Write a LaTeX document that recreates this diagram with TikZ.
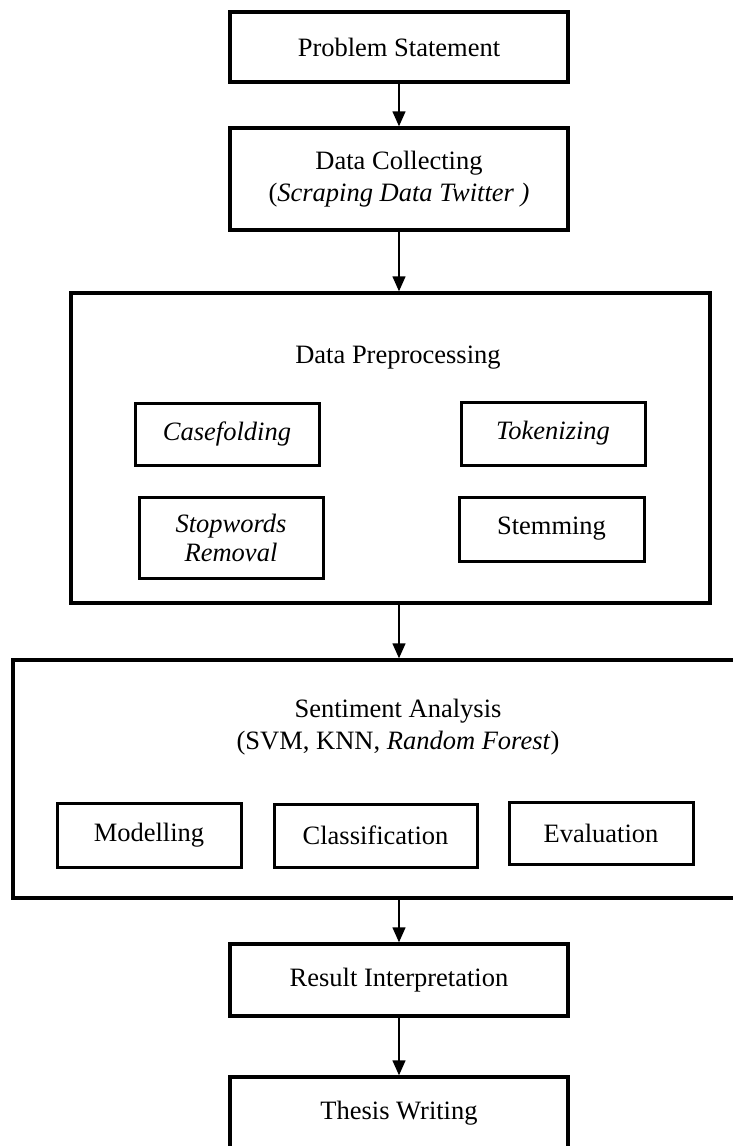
\documentclass[tikz,border=0pt]{standalone}
\usepackage{fontspec}
\setmainfont{Liberation Serif}
\usetikzlibrary{arrows.meta}

\tikzset{
  stage/.style={draw, line width=3.4pt, rectangle, inner sep=0pt, align=center,
                font=\fontsize{26.5}{32}\selectfont},
  task/.style={draw, line width=3pt, rectangle, inner sep=0pt, align=center,
               font=\fontsize{26.5}{29}\selectfont},
  label/.style={inner sep=0pt, align=center, font=\fontsize{26.5}{32}\selectfont},
  flow/.style={line width=1.4pt, -{Triangle[width=13pt,length=15pt]}}
}

\begin{document}
\begin{tikzpicture}[x=1pt,y=-1pt]
  \useasboundingbox (0,0) rectangle (733,1146);
  \clip (0,0) rectangle (733,1146);

  % main stages
  \node[stage, minimum width=338pt, minimum height=70pt]  (ps)  at (399,47)    {Problem Statement};
  \node[stage, minimum width=338pt, minimum height=102pt] (dc)  at (399,179)   {Data Collecting\\(\textit{Scraping Data Twitter )}};
  \node[stage, minimum width=639pt, minimum height=310pt] (pre) at (390.5,448) {};
  \node[stage, minimum width=747pt, minimum height=238pt] (sa)  at (386.5,779) {};
  \node[stage, minimum width=338pt, minimum height=72pt]  (ri)  at (399,980)   {Result Interpretation};
  \node[stage, minimum width=338pt, minimum height=73pt]  (tw)  at (399,1113.5) {Thesis Writing};

  % preprocessing group
  \node[label] (pret) at (398,358) {Data Preprocessing};
  \node[task, minimum width=184pt, minimum height=62pt] (cf) at (227,434)   {\textit{Casefolding}};
  \node[task, minimum width=184pt, minimum height=63pt] (tk) at (553,433.5) {\textit{Tokenizing}};
  \node[task, minimum width=184pt, minimum height=81pt] (sw) at (231,537.5) {\textit{Stopwords}\\\textit{Removal}};
  \node[task, minimum width=185pt, minimum height=64pt] (st) at (551.5,529) {Stemming};

  % sentiment analysis group
  \node[label] (sat) at (398,727) {Sentiment Analysis\\(SVM, KNN, \textit{Random Forest})};
  \node[task, minimum width=184pt, minimum height=64pt] (md) at (149,835)   {Modelling};
  \node[task, minimum width=203pt, minimum height=63pt] (cl) at (375.5,835.5) {Classification};
  \node[task, minimum width=184pt, minimum height=62pt] (ev) at (601,833)   {Evaluation};

  % connectors
  \draw[flow] (ps.south) -- (dc.north);
  \draw[flow] (dc.south) -- (dc.south |- pre.north);
  \draw[flow] (pre.south -| dc.south) -- (dc.south |- sa.north);
  \draw[flow] (sa.south -| ri.north) -- (ri.north);
  \draw[flow] (ri.south) -- (tw.north);
\end{tikzpicture}
\end{document}
